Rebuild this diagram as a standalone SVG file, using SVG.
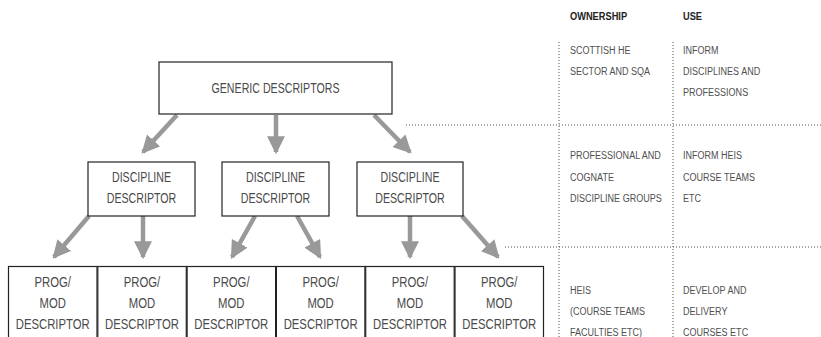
<svg xmlns="http://www.w3.org/2000/svg" width="821" height="337" viewBox="0 0 821 337">
<style>
.box{fill:#fff;stroke:#222;stroke-width:1.2}
.t{font-family:"Liberation Sans",Arial,sans-serif;fill:#4a4a4a;text-anchor:middle}
.g{font-size:14px}
.d{font-size:14px}
.p{font-size:14.6px}
.s{font-family:"Liberation Sans",Arial,sans-serif;font-size:11.5px;fill:#505050}
.h{font-family:"Liberation Sans",Arial,sans-serif;font-size:11.8px;fill:#222;font-weight:bold}
.dot{stroke:#555;stroke-width:1;stroke-dasharray:1 2;fill:none}
.arr{stroke:#999;stroke-width:4.5;fill:none;marker-end:url(#ah)}
</style>
<defs>
<marker id="ah" markerUnits="userSpaceOnUse" markerWidth="18" markerHeight="18" refX="14" refY="8" orient="auto" viewBox="0 0 16 16">
<path d="M0,0 L16,8 L0,16 Z" fill="#999"/>
</marker>
</defs>
<g id="table">
<line class="dot" x1="559" y1="42" x2="559" y2="337"/>
<line class="dot" x1="673" y1="42" x2="673" y2="337"/>
<line class="dot" x1="406" y1="125" x2="821" y2="125"/>
<line class="dot" x1="505" y1="247" x2="821" y2="247"/>
<g transform="translate(570,0) scale(0.785,1)">
<text class="h" x="0" y="20">OWNERSHIP</text>
<text class="s" x="0" y="54">SCOTTISH HE</text>
<text class="s" x="0" y="75">SECTOR AND SQA</text>
<text class="s" x="0" y="159">PROFESSIONAL AND</text>
<text class="s" x="0" y="181">COGNATE</text>
<text class="s" x="0" y="202">DISCIPLINE GROUPS</text>
<text class="s" x="0" y="294">HEIS</text>
<text class="s" x="0" y="315">(COURSE TEAMS</text>
<text class="s" x="0" y="336">FACULTIES ETC)</text>
</g>
<g transform="translate(683,0) scale(0.785,1)">
<text class="h" x="0" y="20">USE</text>
<text class="s" x="0" y="54">INFORM</text>
<text class="s" x="0" y="75">DISCIPLINES AND</text>
<text class="s" x="0" y="96">PROFESSIONS</text>
<text class="s" x="0" y="159">INFORM HEIS</text>
<text class="s" x="0" y="181">COURSE TEAMS</text>
<text class="s" x="0" y="202">ETC</text>
<text class="s" x="0" y="294">DEVELOP AND</text>
<text class="s" x="0" y="315">DELIVERY</text>
<text class="s" x="0" y="336">COURSES ETC</text>
</g>
</g>
<g id="connectors">
<line class="arr" x1="177" y1="115" x2="143" y2="152"/>
<line class="arr" x1="276" y1="115" x2="276" y2="152"/>
<line class="arr" x1="374" y1="115" x2="410" y2="152"/>
<line class="arr" x1="89" y1="216" x2="54" y2="257"/>
<line class="arr" x1="143" y1="216" x2="143" y2="257"/>
<line class="arr" x1="255" y1="216" x2="232" y2="257"/>
<line class="arr" x1="297" y1="216" x2="320" y2="257"/>
<line class="arr" x1="410" y1="216" x2="410" y2="257"/>
<line class="arr" x1="462" y1="216" x2="498" y2="257"/>
</g>
<g id="generic">
<rect class="box" x="159" y="62" width="233" height="52"/>
<g transform="translate(275.5,0) scale(0.76,1)"><text class="t g" x="0" y="93">GENERIC DESCRIPTORS</text></g>
</g>
<g id="disc1">
<rect class="box" x="88" y="162" width="107" height="54"/>
<g transform="translate(141.5,0) scale(0.76,1)"><text class="t d" x="0" y="182">DISCIPLINE</text><text class="t d" x="0" y="203">DESCRIPTOR</text></g>
</g>
<g id="disc2">
<rect class="box" x="222" y="162" width="107" height="54"/>
<g transform="translate(275.5,0) scale(0.76,1)"><text class="t d" x="0" y="182">DISCIPLINE</text><text class="t d" x="0" y="203">DESCRIPTOR</text></g>
</g>
<g id="disc3">
<rect class="box" x="357" y="162" width="106" height="54"/>
<g transform="translate(410,0) scale(0.76,1)"><text class="t d" x="0" y="182">DISCIPLINE</text><text class="t d" x="0" y="203">DESCRIPTOR</text></g>
</g>
<g id="prog1">
<rect class="box" x="8.5" y="266.5" width="88.5" height="80"/>
<g transform="translate(52.7,0) scale(0.775,1)"><text class="t p" x="0" y="287">PROG/</text><text class="t p" x="0" y="308">MOD</text><text class="t p" x="0" y="329">DESCRIPTOR</text></g>
</g>
<g id="prog2">
<rect class="box" x="97.8" y="266.5" width="88.5" height="80"/>
<g transform="translate(142,0) scale(0.775,1)"><text class="t p" x="0" y="287">PROG/</text><text class="t p" x="0" y="308">MOD</text><text class="t p" x="0" y="329">DESCRIPTOR</text></g>
</g>
<g id="prog3">
<rect class="box" x="187.1" y="266.5" width="88.5" height="80"/>
<g transform="translate(231.3,0) scale(0.775,1)"><text class="t p" x="0" y="287">PROG/</text><text class="t p" x="0" y="308">MOD</text><text class="t p" x="0" y="329">DESCRIPTOR</text></g>
</g>
<g id="prog4">
<rect class="box" x="276.4" y="266.5" width="88.5" height="80"/>
<g transform="translate(320.6,0) scale(0.775,1)"><text class="t p" x="0" y="287">PROG/</text><text class="t p" x="0" y="308">MOD</text><text class="t p" x="0" y="329">DESCRIPTOR</text></g>
</g>
<g id="prog5">
<rect class="box" x="365.7" y="266.5" width="88.5" height="80"/>
<g transform="translate(410,0) scale(0.775,1)"><text class="t p" x="0" y="287">PROG/</text><text class="t p" x="0" y="308">MOD</text><text class="t p" x="0" y="329">DESCRIPTOR</text></g>
</g>
<g id="prog6">
<rect class="box" x="455" y="266.5" width="88.5" height="80"/>
<g transform="translate(499.2,0) scale(0.775,1)"><text class="t p" x="0" y="287">PROG/</text><text class="t p" x="0" y="308">MOD</text><text class="t p" x="0" y="329">DESCRIPTOR</text></g>
</g>
</svg>
